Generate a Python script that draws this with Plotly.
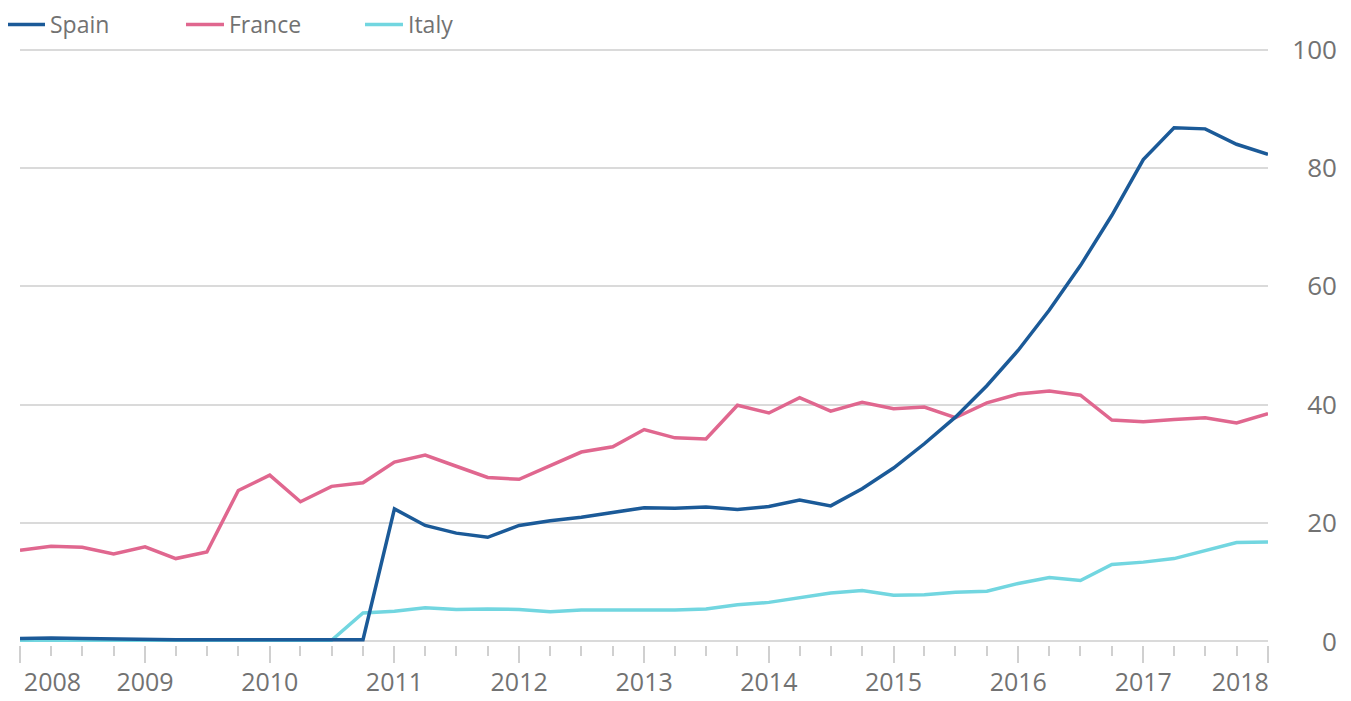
import plotly.graph_objects as go

quarters = [
    "2008-01-01", "2008-04-01", "2008-07-01", "2008-10-01",
    "2009-01-01", "2009-04-01", "2009-07-01", "2009-10-01",
    "2010-01-01", "2010-04-01", "2010-07-01", "2010-10-01",
    "2011-01-01", "2011-04-01", "2011-07-01", "2011-10-01",
    "2012-01-01", "2012-04-01", "2012-07-01", "2012-10-01",
    "2013-01-01", "2013-04-01", "2013-07-01", "2013-10-01",
    "2014-01-01", "2014-04-01", "2014-07-01", "2014-10-01",
    "2015-01-01", "2015-04-01", "2015-07-01", "2015-10-01",
    "2016-01-01", "2016-04-01", "2016-07-01", "2016-10-01",
    "2017-01-01", "2017-04-01", "2017-07-01", "2017-10-01",
    "2018-01-01",
]

spain = [0.5, 0.6, 0.5, 0.4, 0.3, 0.3, 0.3, 0.3, 0.3, 0.3, 0.3, 0.3,
         22.4, 19.6, 18.3, 17.6, 19.6, 20.4, 21.0, 21.8, 22.6, 22.5, 22.7, 22.3,
         22.8, 23.9, 22.9, 25.8, 29.3, 33.4, 37.9, 43.2, 49.2, 56.0, 63.5, 72.0,
         81.4, 86.8, 86.6, 84.0, 82.3]

france = [15.4, 16.1, 15.9, 14.8, 16.0, 14.0, 15.1, 25.5, 28.1, 23.6, 26.2, 26.8,
          30.3, 31.5, 29.6, 27.7, 27.4, 29.7, 32.0, 32.9, 35.8, 34.4, 34.2, 39.9,
          38.6, 41.2, 38.9, 40.4, 39.3, 39.6, 37.8, 40.3, 41.8, 42.3, 41.6, 37.4,
          37.1, 37.5, 37.8, 36.9, 38.5]

italy = [0.2, 0.2, 0.2, 0.2, 0.2, 0.2, 0.2, 0.2, 0.2, 0.2, 0.2, 4.8,
         5.1, 5.7, 5.4, 5.5, 5.4, 5.0, 5.3, 5.3, 5.3, 5.3, 5.5, 6.2,
         6.6, 7.4, 8.2, 8.6, 7.8, 7.9, 8.3, 8.5, 9.8, 10.8, 10.3, 13.0,
         13.4, 14.0, 15.4, 16.7, 16.8]

year_label_pos = ["2008-04-05", "2009-01-01", "2010-01-01", "2011-01-01", "2012-01-01",
                  "2013-01-01", "2014-01-01", "2015-01-01", "2016-01-01", "2017-01-01",
                  "2017-10-12"]
year_labels = ["2008", "2009", "2010", "2011", "2012", "2013", "2014", "2015",
               "2016", "2017", "2018"]
y_ticks = [0, 20, 40, 60, 80, 100]

FONT = "Open Sans"
GRAY = "#727272"
TICK = "#d0d0d0"

fig = go.Figure()
fig.add_trace(go.Scatter(x=quarters, y=italy, name="Italy", mode="lines", legendrank=3,
                         line=dict(color="#72d6e0", width=3.5)))
fig.add_trace(go.Scatter(x=quarters, y=france, name="France", mode="lines", legendrank=2,
                         line=dict(color="#e0678f", width=3.5)))
fig.add_trace(go.Scatter(x=quarters, y=spain, name="Spain", mode="lines", legendrank=1,
                         line=dict(color="#1b5a98", width=3.5)))
# carrier for the label axis
fig.add_trace(go.Scatter(x=[quarters[0], quarters[-1]], y=[None, None], xaxis="x2",
                         showlegend=False, hoverinfo="skip", mode="lines"))

rng = ["2008-01-01", "2018-01-01"]
fig.update_layout(
    width=1343, height=693,
    margin=dict(l=12, r=7, t=38, b=56, autoexpand=False),
    paper_bgcolor="white", plot_bgcolor="white",
    font=dict(family=FONT, size=25, color=GRAY),
    showlegend=True,
    legend=dict(orientation="h", xref="paper", yref="paper", x=-0.0136, y=1.0359,
                xanchor="left", yanchor="middle", font=dict(family=FONT, size=23, color=GRAY),
                itemwidth=38, entrywidth=126, bgcolor="rgba(0,0,0,0)"),
    xaxis=dict(type="date", range=rng, domain=[0, 0.9426], anchor="y",
               showgrid=False, zeroline=False, showline=False,
               tickmode="linear", tick0="2008-01-01", dtick="M12",
               ticks="outside", ticklen=17, tickwidth=2, tickcolor=TICK,
               showticklabels=False,
               minor=dict(ticks="outside", tick0="2008-01-01", dtick="M3",
                          ticklen=10, tickwidth=2, tickcolor=TICK, showgrid=False)),
    xaxis2=dict(type="date", range=rng, overlaying="x", anchor="y", side="bottom",
                showgrid=False, zeroline=False, showline=False,
                tickmode="array", tickvals=year_label_pos, ticktext=year_labels,
                ticks="outside", ticklen=15, tickcolor="rgba(0,0,0,0)",
                tickfont=dict(family=FONT, size=25, color=GRAY)),
    yaxis=dict(range=[-0.6, 100.6], side="left", anchor="free", position=0.9947,
               tickmode="array", tickvals=y_ticks, ticks="",
               showgrid=True, gridcolor="#dadada", gridwidth=2,
               zeroline=False, showline=False,
               tickfont=dict(family=FONT, size=26, color=GRAY)),
)

fig.write_html("out.html")
